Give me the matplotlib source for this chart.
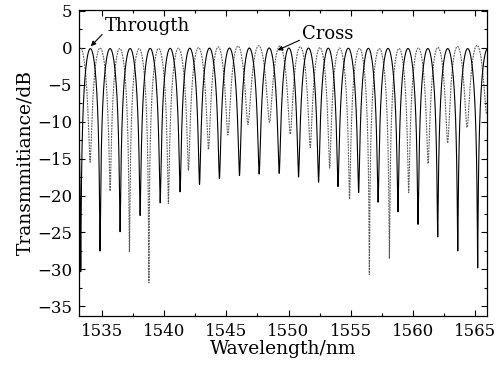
import numpy as np
import matplotlib
matplotlib.use("Agg")
import matplotlib.pyplot as plt
from matplotlib.ticker import MultipleLocator

# Dip wavelengths (nm) and dip depths (dB).
# First/last entries sit just outside the visible window so the edges are shaped.
through_dips = [1531.70, 1533.31, 1534.86, 1536.47, 1538.08, 1539.69, 1541.29,
                1542.85, 1544.45, 1546.06, 1547.64, 1549.25, 1550.80, 1552.41,
                1553.97, 1555.63, 1557.19, 1558.79, 1560.40, 1561.98, 1563.59,
                1565.19, 1566.80]
through_depth = [-30.0, -30.3, -27.5, -24.9, -22.7, -21.0, -19.5,
                 -18.5, -17.7, -17.3, -17.1, -17.0, -17.5, -18.2,
                 -18.8, -19.6, -20.9, -22.2, -23.9, -25.6, -27.5,
                 -29.8, -30.0]

cross_dips = [1532.48, 1534.06, 1535.67, 1537.22, 1538.78, 1540.35, 1541.96,
              1543.57, 1545.13, 1546.74, 1548.47, 1550.14, 1551.74, 1553.30,
              1554.90, 1556.49, 1558.10, 1559.65, 1561.21, 1562.78, 1564.34,
              1565.92, 1567.50]
cross_depth = [-14.0, -15.5, -19.4, -27.6, -31.8, -21.1, -16.6,
               -13.8, -11.8, -10.4, -10.1, -11.7, -13.5, -16.3,
               -20.5, -30.7, -28.5, -19.6, -15.7, -12.9, -10.8,
               -9.0, -9.0]


def spectrum(dips, depths, n=400):
    # cos^2-type fringe between neighbouring dips, floor set by each dip depth
    xs, ys = [], []
    for i in range(len(dips) - 1):
        a, b = dips[i], dips[i + 1]
        e0, e1 = 10 ** (depths[i] / 10), 10 ** (depths[i + 1] / 10)
        x = np.linspace(a, b, n)
        th = np.pi * (x - a) / (b - a)
        t = 0.97 * np.sin(th) ** 2 + e0 * np.cos(th / 2) ** 2 + e1 * np.sin(th / 2) ** 2
        xs.append(x)
        ys.append(10 * np.log10(t))
    return np.concatenate(xs), np.concatenate(ys)


plt.rcParams['font.family'] = ['DejaVu Serif']
plt.rcParams['mathtext.fontset'] = 'dejavuserif'

fig = plt.figure(figsize=(5.0, 3.69), dpi=100)
ax = fig.add_axes([0.158, 0.1436, 0.816, 0.8294])

xc, yc = spectrum(cross_dips, cross_depth)
xt, yt = spectrum(through_dips, through_depth)
ax.plot(xc, yc, color='0.35', lw=0.8, dashes=(1.6, 0.9))
ax.plot(xt, yt, color='black', lw=0.8)

ax.set_xlim(1533.17, 1565.94)
ax.set_ylim(-36.3, 5.1)
ax.xaxis.set_major_locator(MultipleLocator(5))
ax.xaxis.set_minor_locator(MultipleLocator(2.5))
ax.yaxis.set_major_locator(MultipleLocator(5))
ax.yaxis.set_minor_locator(MultipleLocator(2.5))
ax.tick_params(which='both', direction='in', top=True, right=True, labelsize=12)
ax.tick_params(which='major', length=4, width=0.8, pad=5)
ax.tick_params(which='minor', length=2, width=0.8)
for s in ax.spines.values():
    s.set_linewidth(0.9)

ax.set_xlabel('Wavelength/nm', fontsize=13.5, labelpad=0)
ax.set_ylabel('Transmmitiance/dB', fontsize=13.5, labelpad=2)

ax.annotate('Througth', xy=(1534.12, 0.2), xytext=(1535.25, 2.9),
            fontsize=13, va='center', ha='left',
            arrowprops=dict(arrowstyle='-|>', color='black', lw=0.8,
                            mutation_scale=7, shrinkA=0, shrinkB=0,
                            relpos=(0, 0.2)))
ax.annotate('Cross', xy=(1549.12, -0.35), xytext=(1551.1, 1.9),
            fontsize=13, va='center', ha='left',
            arrowprops=dict(arrowstyle='-|>', color='black', lw=0.8,
                            mutation_scale=7, shrinkA=0, shrinkB=0,
                            relpos=(0, 0.2)))

fig.savefig('out.png', dpi=100)
